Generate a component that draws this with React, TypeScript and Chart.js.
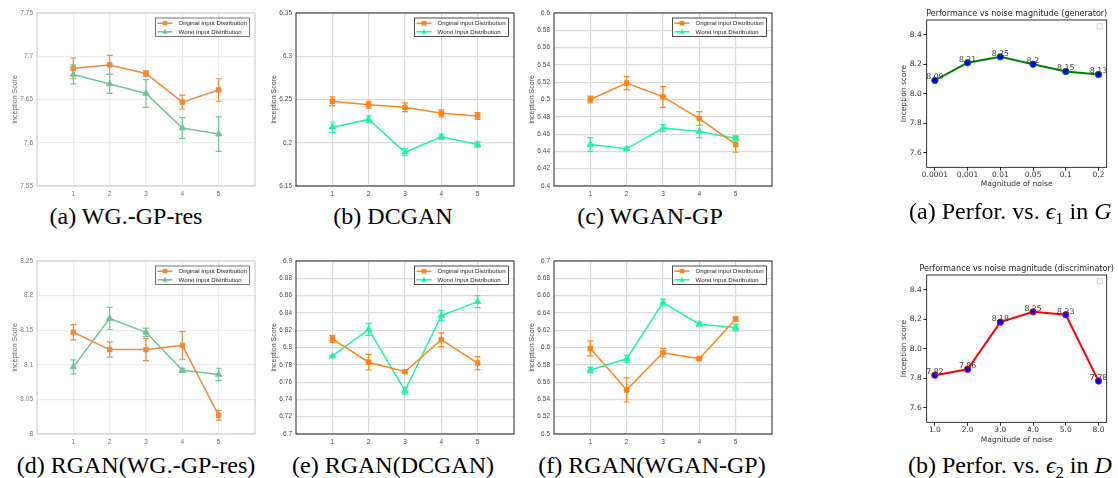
import React, { useEffect, useRef } from 'react';
import { Chart, registerables } from 'chart.js';

Chart.register(...registerables);

// ---------- data ----------
const steps = [1, 2, 3, 4, 5];

// (a) WG.-GP-res
const aOrig = [7.686, 7.69, 7.68, 7.647, 7.661];
const aOrigErr = [0.012, 0.011, 0.003, 0.008, 0.013];
const aWorst = [7.679, 7.668, 7.657, 7.617, 7.61];
const aWorstErr = [0.011, 0.011, 0.016, 0.012, 0.02];
const aTicks = [7.55, 7.6, 7.65, 7.7, 7.75];

// (b) DCGAN
const bOrig = [6.248, 6.244, 6.241, 6.234, 6.231];
const bOrigErr = [0.005, 0.004, 0.005, 0.004, 0.004];
const bWorst = [6.218, 6.227, 6.189, 6.207, 6.198];
const bWorstErr = [0.006, 0.004, 0.004, 0.003, 0.003];
const bTicks = [6.15, 6.2, 6.25, 6.3, 6.35];

// (c) WGAN-GP
const cOrig = [6.5, 6.519, 6.503, 6.478, 6.448];
const cOrigErr = [0.004, 0.0075, 0.012, 0.008, 0.009];
const cWorst = [6.448, 6.443, 6.467, 6.463, 6.455];
const cWorstErr = [0.008, 0.002, 0.004, 0.007, 0.003];
const cTicks = [6.4, 6.42, 6.44, 6.46, 6.48, 6.5, 6.52, 6.54, 6.56, 6.58, 6.6];

// (d) RGAN(WG.-GP-res)
const dOrig = [8.147, 8.122, 8.122, 8.128, 8.027];
const dOrigErr = [0.011, 0.011, 0.016, 0.02, 0.007];
const dWorst = [8.097, 8.167, 8.147, 8.092, 8.086];
const dWorstErr = [0.01, 0.016, 0.006, 0.003, 0.009];
const dTicks = [8, 8.05, 8.1, 8.15, 8.2, 8.25];

// (e) RGAN(DCGAN)
const eOrig = [6.81, 6.783, 6.772, 6.809, 6.782];
const eOrigErr = [0.004, 0.009, 0.002, 0.008, 0.0075];
const eWorst = [6.79, 6.821, 6.75, 6.837, 6.853];
const eWorstErr = [0.001, 0.007, 0.004, 0.006, 0.007];
const eTicks = [6.7, 6.72, 6.74, 6.76, 6.78, 6.8, 6.82, 6.84, 6.86, 6.88, 6.9];

// (f) RGAN(WGAN-GP)
const fOrig = [6.599, 6.551, 6.594, 6.587, 6.633];
const fOrigErr = [0.0087, 0.014, 0.005, 0.001, 0.002];
const fWorst = [6.574, 6.587, 6.652, 6.627, 6.623];
const fWorstErr = [0.003, 0.004, 0.004, 0.002, 0.004];
const fTicks = [6.5, 6.52, 6.54, 6.56, 6.58, 6.6, 6.62, 6.64, 6.66, 6.68, 6.7];

// noise magnitude plots
const noiseG = ['0.0001', '0.001', '0.01', '0.05', '0.1', '0.2'];
const scoreG = [8.09, 8.21, 8.25, 8.2, 8.15, 8.13];
const noiseD = ['1.0', '2.0', '3.0', '4.0', '5.0', '8.0'];
const scoreD = [7.82, 7.86, 8.18, 8.25, 8.23, 7.78];
const noiseTicks = [7.6, 7.8, 8.0, 8.2, 8.4];
const noiseRange = [7.5, 8.5];

// ---------- helpers ----------
const SANS = '"Liberation Sans", Arial, sans-serif';
const DJ = '"DejaVu Sans", sans-serif';
const fmt = (v: number) => String(Math.round(v * 1000) / 1000);

const errorBars = {
  id: 'errorBars',
  beforeDatasetsDraw(chart: any) {
    const { ctx } = chart;
    const xs = chart.scales.x;
    const ys = chart.scales.y;
    chart.data.datasets.forEach((ds: any) => {
      if (!ds.errors) return;
      ctx.save();
      ctx.strokeStyle = ds.borderColor;
      ctx.lineWidth = 1.2;
      ds.data.forEach((p: any, i: number) => {
        const px = xs.getPixelForValue(p.x);
        const t = ys.getPixelForValue(p.y + ds.errors[i]);
        const b = ys.getPixelForValue(p.y - ds.errors[i]);
        ctx.beginPath();
        ctx.moveTo(px, t);
        ctx.lineTo(px, b);
        ctx.moveTo(px - 3, t);
        ctx.lineTo(px + 3, t);
        ctx.moveTo(px - 3, b);
        ctx.lineTo(px + 3, b);
        ctx.stroke();
      });
      ctx.restore();
    });
  },
};

function framePlugin(color: string, width: number) {
  return {
    id: 'frame',
    afterDraw(chart: any) {
      const { ctx, chartArea: a } = chart;
      ctx.save();
      ctx.strokeStyle = color;
      ctx.lineWidth = width;
      ctx.strokeRect(a.left, a.top, a.right - a.left, a.bottom - a.top);
      ctx.restore();
    },
  };
}

function drawMarker(ctx: CanvasRenderingContext2D, shape: string, x: number, y: number, color: string) {
  ctx.fillStyle = color;
  if (shape === 'rect') {
    ctx.fillRect(x - 2.3, y - 2.3, 4.6, 4.6);
  } else {
    ctx.beginPath();
    ctx.moveTo(x, y - 3);
    ctx.lineTo(x + 2.8, y + 2);
    ctx.lineTo(x - 2.8, y + 2);
    ctx.closePath();
    ctx.fill();
  }
}

function legendPlugin(border: string) {
  return {
    id: 'mLegend',
    afterDraw(chart: any) {
      const { ctx, chartArea: a } = chart;
      const w = 94;
      const h = 18.5;
      const bx = a.right - 5.5 - w;
      const by = a.top + 5;
      ctx.save();
      ctx.fillStyle = '#fff';
      ctx.fillRect(bx, by, w, h);
      ctx.strokeStyle = border;
      ctx.lineWidth = 0.8;
      ctx.strokeRect(bx, by, w, h);
      chart.data.datasets.forEach((ds: any, i: number) => {
        const cy = by + 5.2 + i * 8.6;
        ctx.strokeStyle = ds.borderColor;
        ctx.lineWidth = 1.5;
        ctx.beginPath();
        ctx.moveTo(bx + 2, cy);
        ctx.lineTo(bx + 17, cy);
        ctx.stroke();
        drawMarker(ctx, ds.pointStyle, bx + 9.5, cy, ds.borderColor);
        ctx.fillStyle = '#1a1a1a';
        ctx.font = `6.1px ${SANS}`;
        ctx.textBaseline = 'middle';
        ctx.textAlign = 'left';
        ctx.fillText(ds.label, bx + 23, cy + 0.3);
      });
      ctx.restore();
    },
  };
}

const LW = 260;
const LH = 200;
const LPL = 37;
const LPR = 257;
const LPT = 13;
const LPB = 186;

function matlabConfig(
  orig: number[],
  origErr: number[],
  worst: number[],
  worstErr: number[],
  yTicks: number[],
  faded: boolean,
  origLabel: string
) {
  const orange = faded ? '#EE8A3E' : '#FF8418';
  const green = faded ? '#70C399' : '#1FF3A5';
  const frame = faded ? '#c8c8c8' : '#262626';
  const grid = faded ? '#ececec' : '#dadada';
  const tickCol = faded ? '#777' : '#4a4a4a';
  const legBorder = faded ? '#555' : '#222';
  const sets = [
    { label: origLabel, vals: orig, errs: origErr, color: orange, shape: 'rect' },
    { label: 'Worst Input Distribution', vals: worst, errs: worstErr, color: green, shape: 'triangle' },
  ];
  return {
    type: 'line',
    data: {
      datasets: sets.map((s) => ({
        label: s.label,
        data: steps.map((st, i) => ({ x: st, y: s.vals[i] })),
        errors: s.errs,
        borderColor: s.color,
        backgroundColor: s.color,
        borderWidth: 1.5,
        pointStyle: s.shape,
        pointRadius: s.shape === 'rect' ? 3.2 : 3.6,
        pointBorderWidth: 1,
        tension: 0,
      })),
    },
    options: {
      animation: false,
      responsive: false,
      events: [],
      layout: { padding: { left: 0, top: LPT, right: LW - LPR, bottom: 0 } },
      plugins: { legend: { display: false }, tooltip: { enabled: false } },
      scales: {
        x: {
          type: 'linear',
          min: 0,
          max: 6,
          afterBuildTicks: (sc: any) => {
            sc.ticks = steps.map((v) => ({ value: v }));
          },
          afterFit: (sc: any) => {
            sc.height = LH - LPB;
          },
          grid: { color: grid, drawTicks: false, lineWidth: 1.2 },
          border: { display: false },
          ticks: {
            font: { family: SANS, size: 6.5 },
            color: tickCol,
            padding: 4.1,
            maxRotation: 0,
            autoSkip: false,
            callback: (v: any) => String(v),
          },
        },
        y: {
          type: 'linear',
          min: yTicks[0],
          max: yTicks[yTicks.length - 1],
          afterBuildTicks: (sc: any) => {
            sc.ticks = yTicks.map((v) => ({ value: v }));
          },
          afterFit: (sc: any) => {
            sc.width = LPL;
          },
          grid: { color: grid, drawTicks: false, lineWidth: 1.2 },
          border: { display: false },
          ticks: {
            font: { family: SANS, size: 6.5 },
            color: tickCol,
            padding: 4,
            autoSkip: false,
            callback: (v: any) => fmt(Number(v)),
          },
          title: {
            display: true,
            text: 'Inception Score',
            font: { family: SANS, size: 7 },
            color: faded ? '#666' : '#444',
            padding: { top: 10.8, bottom: 0 },
          },
        },
      },
    },
    plugins: [errorBars, framePlugin(frame, 1), legendPlugin(legBorder)],
  };
}

const RW = 240;
const RH = 200;
const RPL = 48.7;
const RPR = 228.7;

function mplExtras(title: string, titleSize: number) {
  return {
    id: 'mplExtras',
    afterDraw(chart: any) {
      const { ctx, chartArea: a } = chart;
      ctx.save();
      ctx.fillStyle = '#222';
      ctx.font = `${titleSize}px ${DJ}`;
      ctx.textAlign = 'center';
      ctx.textBaseline = 'bottom';
      ctx.fillText(title, (a.left + a.right) / 2, a.top - 2.5);
      const ds = chart.data.datasets[0];
      const meta = chart.getDatasetMeta(0);
      ctx.font = `7.8px ${DJ}`;
      ctx.fillStyle = '#333';
      ctx.textBaseline = 'alphabetic';
      meta.data.forEach((el: any, i: number) => {
        ctx.fillText(ds.valueText[i], el.x, el.y - 1.2);
      });
      ctx.strokeStyle = '#cccccc';
      ctx.lineWidth = 0.8;
      ctx.strokeRect(a.right - 9.5, a.top + 3.8, 5, 5);
      ctx.restore();
    },
  };
}

function mplConfig(
  vals: number[],
  labels: string[],
  color: string,
  title: string,
  titleSize: number,
  plotTop: number,
  plotBottom: number,
  xTitleY: number
) {
  const tickFont = { family: DJ, size: 7.5 };
  return {
    type: 'line',
    data: {
      datasets: [
        {
          data: vals.map((v, i) => ({ x: i, y: v })),
          valueText: vals.map((v) => String(v)),
          borderColor: color,
          borderWidth: 2,
          pointBackgroundColor: '#0000ff',
          pointBorderColor: color,
          pointRadius: 3.2,
          pointBorderWidth: 1,
          tension: 0,
        },
      ],
    },
    options: {
      animation: false,
      responsive: false,
      events: [],
      layout: { padding: { left: 0, top: plotTop, right: RW - RPR, bottom: 0 } },
      plugins: { legend: { display: false }, tooltip: { enabled: false } },
      scales: {
        x: {
          type: 'linear',
          min: -0.25,
          max: labels.length - 0.75,
          afterBuildTicks: (sc: any) => {
            sc.ticks = labels.map((_, i) => ({ value: i }));
          },
          afterFit: (sc: any) => {
            sc.height = RH - plotBottom;
          },
          grid: { drawOnChartArea: false, drawTicks: true, tickLength: 3.5, color: '#000', lineWidth: 0.8 },
          border: { display: false },
          ticks: {
            font: tickFont,
            color: '#333',
            padding: 0,
            maxRotation: 0,
            autoSkip: false,
            callback: (v: any) => labels[Math.round(Number(v))],
          },
          title: {
            display: true,
            text: 'Magnitude of noise',
            font: tickFont,
            color: '#333',
            padding: { top: 0, bottom: RH - xTitleY - 4.5 },
          },
        },
        y: {
          type: 'linear',
          min: noiseRange[0],
          max: noiseRange[1],
          afterBuildTicks: (sc: any) => {
            sc.ticks = noiseTicks.map((v) => ({ value: v }));
          },
          afterFit: (sc: any) => {
            sc.width = RPL;
          },
          grid: { drawOnChartArea: false, drawTicks: true, tickLength: 3.5, color: '#000', lineWidth: 0.8 },
          border: { display: false },
          ticks: {
            font: tickFont,
            color: '#333',
            padding: 1.5,
            autoSkip: false,
            callback: (v: any) => Number(v).toFixed(1),
          },
          title: {
            display: true,
            text: 'Inception score',
            font: tickFont,
            color: '#333',
            padding: { top: 21.5, bottom: 0 },
          },
        },
      },
    },
    plugins: [framePlugin('#000', 0.8), mplExtras(title, titleSize)],
  };
}

function ChartCanvas({ x, y, w, h, build }: { x: number; y: number; w: number; h: number; build: () => any }) {
  const ref = useRef<HTMLCanvasElement | null>(null);
  useEffect(() => {
    const c = new Chart(ref.current as HTMLCanvasElement, build());
    return () => c.destroy();
  }, []);
  return (
    <div style={{ position: 'absolute', left: x, top: y, width: w, height: h }}>
      <canvas ref={ref} width={w} height={h} style={{ width: w, height: h, display: 'block' }} />
    </div>
  );
}

const capStyle: React.CSSProperties = {
  position: 'absolute',
  fontFamily: '"Liberation Serif", "Times New Roman", serif',
  fontSize: 24,
  lineHeight: '24px',
  whiteSpace: 'nowrap',
  color: '#000',
};

function Caption({ center, baseline, children }: { center: number; baseline: number; children: React.ReactNode }) {
  return (
    <div style={{ ...capStyle, left: center - 200, width: 400, top: baseline - 20.1, textAlign: 'center' }}>
      {children}
    </div>
  );
}

function CaptionLeft({ left, baseline, children }: { left: number; baseline: number; children: React.ReactNode }) {
  return <div style={{ ...capStyle, left, top: baseline - 20.1 }}>{children}</div>;
}

const subStyle: React.CSSProperties = { fontSize: '0.68em', verticalAlign: '-0.28em', lineHeight: 0 };

export default function App() {
  return (
    <div
      style={{
        position: 'fixed',
        left: 0,
        top: 0,
        width: 1118,
        height: 478,
        overflow: 'hidden',
        background: '#fff',
      }}
    >
      <ChartCanvas x={0} y={0} w={LW} h={LH} build={() => matlabConfig(aOrig, aOrigErr, aWorst, aWorstErr, aTicks, true, 'Original Input Distribution')} />
      <ChartCanvas x={259} y={0} w={LW} h={LH} build={() => matlabConfig(bOrig, bOrigErr, bWorst, bWorstErr, bTicks, false, 'Original input Distribution')} />
      <ChartCanvas x={517} y={0} w={LW} h={LH} build={() => matlabConfig(cOrig, cOrigErr, cWorst, cWorstErr, cTicks, false, 'Original input Distribution')} />
      <ChartCanvas x={0} y={248} w={LW} h={LH} build={() => matlabConfig(dOrig, dOrigErr, dWorst, dWorstErr, dTicks, true, 'Original Input Distribution')} />
      <ChartCanvas x={259} y={248} w={LW} h={LH} build={() => matlabConfig(eOrig, eOrigErr, eWorst, eWorstErr, eTicks, false, 'Original input Distribution')} />
      <ChartCanvas x={517} y={248} w={LW} h={LH} build={() => matlabConfig(fOrig, fOrigErr, fWorst, fWorstErr, fTicks, false, 'Original input Distribution')} />
      <ChartCanvas x={878} y={0} w={RW} h={RH} build={() => mplConfig(scoreG, noiseG, '#008000', 'Performance vs noise magnitude (generator)', 8.05, 20, 167.3, 184)} />
      <ChartCanvas x={878} y={250} w={RW} h={RH} build={() => mplConfig(scoreD, noiseD, '#ff0000', 'Performance vs noise magnitude (discriminator)', 8.05, 25, 172.3, 190)} />

      <Caption center={126} baseline={224}>(a) WG.-GP-res</Caption>
      <Caption center={393} baseline={224}>(b) DCGAN</Caption>
      <Caption center={650} baseline={224}>(c) WGAN-GP</Caption>
      <Caption center={136} baseline={473}>(d) RGAN(WG.-GP-res)</Caption>
      <Caption center={393} baseline={473}>(e) RGAN(DCGAN)</Caption>
      <Caption center={652} baseline={473}>(f) RGAN(WGAN-GP)</Caption>
      <CaptionLeft left={909} baseline={219}>
        (a) Perfor. vs. <i>ϵ</i>
        <sub style={subStyle}>1</sub> in <i>G</i>
      </CaptionLeft>
      <CaptionLeft left={908} baseline={473}>
        (b) Perfor. vs. <i>ϵ</i>
        <sub style={subStyle}>2</sub> in <i>D</i>
      </CaptionLeft>
    </div>
  );
}
